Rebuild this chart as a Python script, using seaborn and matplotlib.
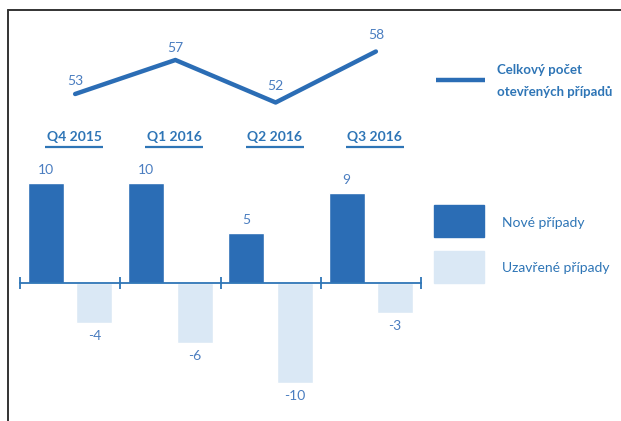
import numpy as np
import pandas as pd
import seaborn as sns
import matplotlib.pyplot as plt
from matplotlib.patches import Rectangle

# data
quarters = ['Q4 2015', 'Q1 2016', 'Q2 2016', 'Q3 2016']
total_open = [53, 57, 52, 58]
new_cases = [10, 10, 5, 9]
closed_cases = [-4, -6, -10, -3]
line_label = 'Celkový počet\notevřených případů'
bar_labels = ['Nové případy', 'Uzavřené případy']

dark = '#2B6DB5'
light = '#DAE8F5'
txt_blue = '#2E75B6'
num_blue = '#4A7DC0'

sns.set_theme(style='white')
plt.rcParams['font.family'] = ['Lato', 'DejaVu Sans']

W, H = 621, 421
fig = plt.figure(figsize=(W / 100, H / 100), dpi=100)


def px_axes(left, top, width, height):
    return fig.add_axes([left / W, 1 - (top + height) / H, width / W, height / H])


# bars
df = pd.DataFrame({
    'quarter': quarters * 2,
    'typ': [bar_labels[0]] * 4 + [bar_labels[1]] * 4,
    'pocet': new_cases + closed_cases,
})
ax = px_axes(20, 168, 401, 230)
sns.barplot(data=df, x='quarter', y='pocet', hue='typ', palette=[dark, light],
            width=0.97, gap=0.26, saturation=1, legend=False, ax=ax)
for c in ax.containers:
    ax.bar_label(c, fmt='%d', padding=5, color=num_blue, fontsize=10)
ax.set_xlim(-0.5, 3.5)
ax.set_ylim(-11.5, 11.5)
ax.set_xlabel('')
ax.set_ylabel('')
ax.set_yticks([])
ax.set_xticks([-0.5, 0.5, 1.5, 2.5, 3.5])
ax.set_xticklabels([])
for s in ['top', 'right', 'left']:
    ax.spines[s].set_visible(False)
ax.spines['bottom'].set_position(('data', 0))
ax.spines['bottom'].set_color(txt_blue)
ax.spines['bottom'].set_linewidth(1.3)
ax.tick_params(axis='x', direction='inout', length=9, width=1.3, color=txt_blue, bottom=True)
ax.patch.set_alpha(0)

for i, q in enumerate(quarters):
    ax.text(i + 0.04, 14.6, q, ha='center', va='center', fontsize=10,
            fontweight='bold', color=txt_blue, clip_on=False)
    ax.plot([i + 0.04 - 0.29, i + 0.04 + 0.29], [13.6, 13.6], color=txt_blue,
            lw=1.6, clip_on=False, solid_capstyle='butt')

# line
ax2 = px_axes(20, 30, 401, 90)
xs = np.arange(len(total_open)) + 0.05
sns.lineplot(x=xs, y=total_open, color=dark, linewidth=3.2, ax=ax2)
ax2.set_xlim(-0.5, 3.5)
ax2.set_ylim(49.94, 60.53)
ax2.axis('off')
offs = [9, 9, 12, 12]
for x, v, o in zip(xs, total_open, offs):
    ax2.annotate(str(v), (x, v), xytext=(0, o), textcoords='offset points',
                 ha='center', va='center', fontsize=10, color=num_blue,
                 annotation_clip=False)

# frame + legends
ov = fig.add_axes([0, 0, 1, 1])
ov.set_xlim(0, W)
ov.set_ylim(H, 0)
ov.axis('off')
ov.plot([8, W], [10, 10], color='#333333', lw=1.4)
ov.plot([8, 8], [10, H], color='#333333', lw=1.4)

ov.plot([436, 485], [80, 80], color=dark, lw=3.2, solid_capstyle='butt')
ov.text(497, 81, line_label, ha='left', va='center', fontsize=9.5,
        fontweight='bold', color=txt_blue, linespacing=1.9)

ov.add_patch(Rectangle((434, 205), 50, 32, color=dark))
ov.add_patch(Rectangle((434, 251), 50, 32, color=light))
ov.text(502, 223, bar_labels[0], ha='left', va='center', fontsize=10, color=txt_blue)
ov.text(502, 268, bar_labels[1], ha='left', va='center', fontsize=10, color=txt_blue)

fig.savefig('out.png', dpi=100)
